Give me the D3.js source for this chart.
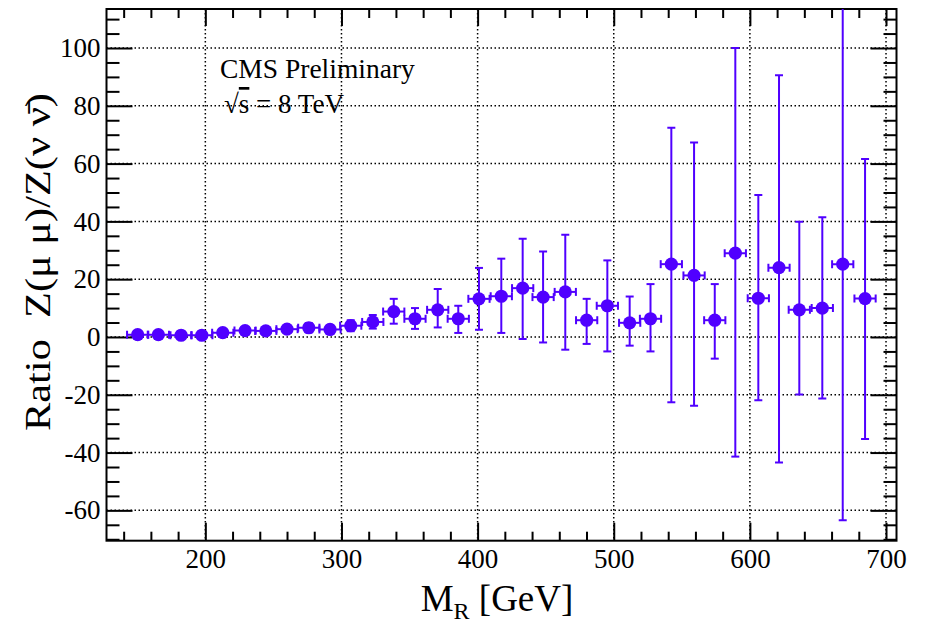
<!DOCTYPE html>
<html lang="en">
<head>
<meta charset="utf-8">
<style>
html, body {
    margin: 0;
    padding: 0;
    background: #fff;
}
svg {
    display: block;
}
text {
    font-family: "Liberation Serif", "DejaVu Serif", serif;
    fill: #000;
}
</style>
</head>
<body>
<svg width="925" height="624"></svg>

<script src="https://cdn.jsdelivr.net/npm/d3@7/dist/d3.min.js"></script>
<script>
// values
var mrValues = [150.3, 165.5, 182.2, 197.4, 212.8, 229.2, 244.4, 260.0, 276.0, 291.6,
                306.8, 323.0, 338.4, 354.0, 370.7, 385.8, 401.0, 417.4, 433.1, 448.1,
                464.4, 480.1, 495.3, 511.7, 527.0, 542.3, 559.0, 574.2, 589.3, 606.2,
                621.4, 636.3, 653.2, 668.2, 684.6];
var ratioValues = [0.8, 0.8, 0.6, 0.6, 1.5, 2.2, 2.1, 2.7, 3.2, 2.6,
                   3.9, 5.2, 8.8, 6.3, 9.4, 6.3, 13.2, 14.1, 16.9, 13.8,
                   15.6, 5.8, 10.8, 4.9, 6.3, 25.2, 21.3, 5.8, 29.0, 13.4,
                   24.0, 9.4, 10.0, 25.2, 13.3];
// upper / lower ends of the error bars
var ratioHigh = [1.2, 1.2, 1.0, 1.0, 2.4, 3.1, 3.0, 3.6, 4.8, 4.1,
                 5.8, 7.6, 13.2, 10.0, 16.6, 10.8, 23.9, 27.1, 34.0, 29.6,
                 35.4, 13.2, 26.5, 14.0, 18.3, 72.4, 67.3, 18.3, 100.0, 49.1,
                 90.6, 39.9, 41.4, 114.0, 61.6];
var ratioLow = [0.4, 0.4, 0.2, 0.2, 0.6, 1.3, 1.2, 1.8, 1.6, 1.1,
                2.0, 2.9, 4.6, 2.8, 3.3, 1.4, 2.5, 1.4, -0.7, -1.9,
                -4.4, -2.4, -5.0, -3.0, -5.0, -22.6, -23.8, -7.5, -41.4, -21.9,
                -43.4, -19.9, -21.3, -63.4, -35.3];
var binHalfWidth = 7.8;

var xTicks = [200, 300, 400, 500, 600, 700];
var yTicks = [-60, -40, -20, 0, 20, 40, 60, 80, 100];

var svg = d3.select("svg");
// plot frame (note: "top" is reserved on window, so use other names)
var padL = 106.5, padR = 896.5, padT = 9, padB = 540.7;
var color = "#5000ff";

var xScale = d3.scaleLinear()
    .domain([127.4, 707.7])
    .range([padL, padR]);

var yScale = d3.scaleLinear()
    .domain([-70.5, 113.5])
    .range([padB, padT]);

var xMinor = d3.range(140, 708, 20).filter(function(d){ return d % 100 != 0 });
var yMinor = d3.range(-70, 114, 5).filter(function(d){ return d % 20 != 0 });

/////////////////////////////////////////
// grid
/////////////////////////////////////////
var grid = svg.append("g")
    .attr("stroke", "#000")
    .attr("stroke-width", 1.5)
    .attr("stroke-dasharray", "1.5,2.5");

grid.selectAll(".gx").data(xTicks).enter().append("line")
    .attr("x1", function(d){ return xScale(d) })
    .attr("x2", function(d){ return xScale(d) })
    .attr("y1", padT)
    .attr("y2", padB);

grid.selectAll(".gy").data(yTicks).enter().append("line")
    .attr("x1", padL)
    .attr("x2", padR)
    .attr("y1", function(d){ return yScale(d) })
    .attr("y2", function(d){ return yScale(d) });

/////////////////////////////////////////
// axes (ticks point inwards, ROOT style)
/////////////////////////////////////////
function styleAxis(g) {
    g.select(".domain").remove();
    g.selectAll("line").attr("stroke", "#000").attr("stroke-width", 2);
    g.selectAll("text").style("font-size", "27px").attr("fill", "#000");
}

svg.append("g")
    .attr("transform", "translate(" + padL + ",0)")
    .call(d3.axisLeft(yScale).tickValues(yTicks).tickSize(-26).tickPadding(6)
        .tickFormat(function(d){ return String(d) }))
    .call(styleAxis);
svg.append("g")
    .attr("transform", "translate(" + padL + ",0)")
    .call(d3.axisLeft(yScale).tickValues(yMinor).tickSize(-13).tickFormat(""))
    .call(styleAxis);
svg.append("g")
    .attr("transform", "translate(" + padR + ",0)")
    .call(d3.axisRight(yScale).tickValues(yTicks).tickSize(-26).tickFormat(""))
    .call(styleAxis);
svg.append("g")
    .attr("transform", "translate(" + padR + ",0)")
    .call(d3.axisRight(yScale).tickValues(yMinor).tickSize(-13).tickFormat(""))
    .call(styleAxis);

svg.append("g")
    .attr("transform", "translate(0," + padB + ")")
    .call(d3.axisBottom(xScale).tickValues(xTicks).tickSize(-18).tickPadding(8)
        .tickFormat(function(d){ return String(d) }))
    .call(styleAxis);
svg.append("g")
    .attr("transform", "translate(0," + padB + ")")
    .call(d3.axisBottom(xScale).tickValues(xMinor).tickSize(-9).tickFormat(""))
    .call(styleAxis);
svg.append("g")
    .attr("transform", "translate(0," + padT + ")")
    .call(d3.axisTop(xScale).tickValues(xTicks).tickSize(-17).tickFormat(""))
    .call(styleAxis);
svg.append("g")
    .attr("transform", "translate(0," + padT + ")")
    .call(d3.axisTop(xScale).tickValues(xMinor).tickSize(-9).tickFormat(""))
    .call(styleAxis);

// frame
svg.append("rect")
    .attr("x", padL)
    .attr("y", padT)
    .attr("width", padR - padL)
    .attr("height", padB - padT)
    .attr("fill", "none")
    .attr("stroke", "#000")
    .attr("stroke-width", 2);

/////////////////////////////////////////
// data points with error bars
/////////////////////////////////////////
svg.append("clipPath").attr("id", "plotArea")
    .append("rect")
    .attr("x", padL).attr("y", padT)
    .attr("width", padR - padL).attr("height", padB - padT);

var data = mrValues.map(function(d, i){
    return {x: d, y: ratioValues[i], hi: ratioHigh[i], lo: ratioLow[i]};
});

var pts = svg.append("g")
    .attr("clip-path", "url(#plotArea)")
    .selectAll("g").data(data).enter().append("g")
    .attr("stroke", color)
    .attr("stroke-width", 2);

// vertical bars
pts.append("line")
    .attr("x1", function(d){ return xScale(d.x) })
    .attr("x2", function(d){ return xScale(d.x) })
    .attr("y1", function(d){ return yScale(d.lo) })
    .attr("y2", function(d){ return yScale(d.hi) });
pts.append("line")
    .attr("x1", function(d){ return xScale(d.x) - 4 })
    .attr("x2", function(d){ return xScale(d.x) + 4 })
    .attr("y1", function(d){ return yScale(d.hi) })
    .attr("y2", function(d){ return yScale(d.hi) });
pts.append("line")
    .attr("x1", function(d){ return xScale(d.x) - 4 })
    .attr("x2", function(d){ return xScale(d.x) + 4 })
    .attr("y1", function(d){ return yScale(d.lo) })
    .attr("y2", function(d){ return yScale(d.lo) });

// horizontal bars
pts.append("line")
    .attr("x1", function(d){ return xScale(d.x - binHalfWidth) })
    .attr("x2", function(d){ return xScale(d.x + binHalfWidth) })
    .attr("y1", function(d){ return yScale(d.y) })
    .attr("y2", function(d){ return yScale(d.y) });
pts.append("line")
    .attr("x1", function(d){ return xScale(d.x - binHalfWidth) })
    .attr("x2", function(d){ return xScale(d.x - binHalfWidth) })
    .attr("y1", function(d){ return yScale(d.y) - 4 })
    .attr("y2", function(d){ return yScale(d.y) + 4 });
pts.append("line")
    .attr("x1", function(d){ return xScale(d.x + binHalfWidth) })
    .attr("x2", function(d){ return xScale(d.x + binHalfWidth) })
    .attr("y1", function(d){ return yScale(d.y) - 4 })
    .attr("y2", function(d){ return yScale(d.y) + 4 });

pts.append("circle")
    .attr("cx", function(d){ return xScale(d.x) })
    .attr("cy", function(d){ return yScale(d.y) })
    .attr("r", 6.6)
    .attr("fill", color)
    .attr("stroke", "none");

/////////////////////////////////////////
// labels
/////////////////////////////////////////
svg.append("text")
    .attr("x", 220)
    .attr("y", 78)
    .style("font-size", "27.5px")
    .text("CMS Preliminary");

var energy = svg.append("text")
    .attr("x", 224)
    .attr("y", 113)
    .style("font-size", "27px");
energy.append("tspan").text("√");
energy.append("tspan").style("text-decoration", "overline").text("s");
energy.append("tspan").text(" = 8 TeV");

var xTitle = svg.append("text")
    .attr("x", 497)
    .attr("y", 611)
    .attr("text-anchor", "middle")
    .style("font-size", "37px");
xTitle.append("tspan").text("M");
xTitle.append("tspan").attr("dy", 8).style("font-size", "24px").text("R");
xTitle.append("tspan").attr("dy", -8).text(" [GeV]");

svg.append("text")
    .attr("transform", "translate(50,262) rotate(-90)")
    .attr("text-anchor", "middle")
    .attr("textLength", 338)
    .attr("lengthAdjust", "spacingAndGlyphs")
    .style("font-size", "35px")
    .style("white-space", "pre")
    .text("Ratio  Z(μ μ)/Z(ν ν̄)");
</script>
</body>
</html>
